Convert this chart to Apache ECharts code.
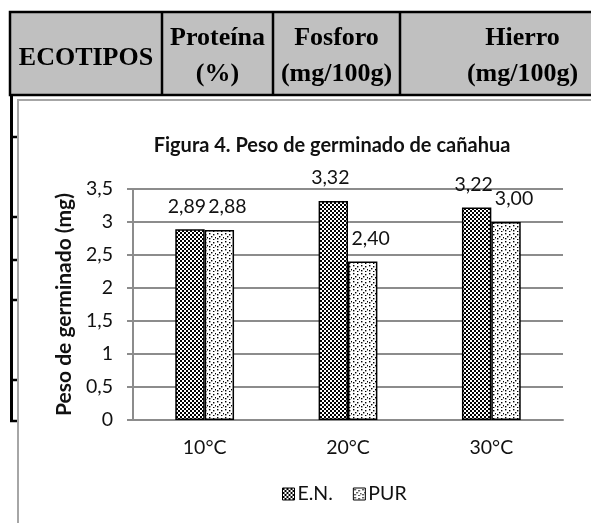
<!DOCTYPE html>
<html><head><meta charset="utf-8">
<script src="https://cdn.jsdelivr.net/npm/echarts@6/dist/echarts.min.js"></script>
<style>html,body{margin:0;padding:0;background:#fff}#c{width:591px;height:523px}</style>
</head><body><div id="c"></div>
<script>
const categories = ['10°C', '20°C', '30°C'];
const seriesNames = ['E.N.', 'PUR'];
const enValues = [2.89, 3.32, 3.22];
const purValues = [2.88, 2.40, 3.00];
const yTicks = [0, 0.5, 1, 1.5, 2, 2.5, 3, 3.5];
const tableHeaders = [['ECOTIPOS'], ['Proteína', '(%)'], ['Fosforo', '(mg/100g)'], ['Hierro', '(mg/100g)']];

function checker() {
  const c = document.createElement('canvas'); c.width = 4; c.height = 4;
  const g = c.getContext('2d');
  g.fillStyle = '#fff'; g.fillRect(0, 0, 4, 4);
  g.fillStyle = '#000'; g.fillRect(0, 0, 2, 2); g.fillRect(2, 2, 2, 2);
  return c;
}
function dots() {
  const c = document.createElement('canvas'); c.width = 8; c.height = 8;
  const g = c.getContext('2d');
  g.fillStyle = '#fff'; g.fillRect(0, 0, 8, 8);
  g.fillStyle = '#000';
  [[1,1],[5,2],[3,4],[7,5],[1,6],[5,7]].forEach(p => g.fillRect(p[0], p[1], 1.4, 1.4));
  return c;
}
const fmt = v => Number(v).toFixed(2).replace('.', ',');
const tickFmt = v => String(v).replace('.', ',');

const chart = echarts.init(document.getElementById('c'), null, {renderer: 'canvas'});

const colX = [10, 162, 273, 400, 645];
const g = [];
g.push({type: 'rect', shape: {x: 10, y: 12, width: 640, height: 83}, style: {fill: '#c0c0c0', stroke: '#000', lineWidth: 2.5}, z: 1});
[162, 273, 400].forEach(x => g.push({type: 'line', shape: {x1: x, y1: 12, x2: x, y2: 95}, style: {stroke: '#000', lineWidth: 2.5}, z: 2}));
const tFont = 'bold 26px "Liberation Serif"';
tableHeaders.forEach((lines, i) => {
  const cx = (colX[i] + colX[i + 1]) / 2;
  const ys = lines.length === 1 ? [58] : [38, 74];
  lines.forEach((t, k) => g.push({type: 'text', x: cx, y: ys[k], style: {text: t, font: tFont, fill: '#000', textAlign: 'center', textVerticalAlign: 'middle'}, z: 3}));
});
g.push({type: 'line', shape: {x1: 11.5, y1: 95, x2: 11.5, y2: 422}, style: {stroke: '#000', lineWidth: 3}, z: 2});
g.push({type: 'line', shape: {x1: 10, y1: 421, x2: 17, y2: 421}, style: {stroke: '#000', lineWidth: 2.5}, z: 2});
[137, 217, 260, 300, 380].forEach(y => g.push({type: 'line', shape: {x1: 11, y1: y, x2: 17, y2: y}, style: {stroke: '#000', lineWidth: 2.5}, z: 2}));
g.push({type: 'polyline', shape: {points: [[18, 530], [18, 100], [600, 100]]}, style: {stroke: '#a6a6a6', fill: null, lineWidth: 2}, z: 2});

const lblBase = {show: true, position: 'top', distance: 13, fontFamily: 'Lato', fontSize: 19.5, color: '#111', formatter: p => fmt(p.value)};

chart.setOption({
  backgroundColor: '#fff',
  animation: false,
  graphic: g,
  title: {
    text: 'Figura 4. Peso de germinado de cañahua',
    left: 327, top: 131, textAlign: 'center',
    textStyle: {fontFamily: 'Lato', fontWeight: 'bold', fontSize: 20, color: '#111'}
  },
  legend: {
    data: seriesNames,
    left: 277, top: 479,
    itemWidth: 12, itemHeight: 12, itemGap: 20,
    icon: 'rect',
    textStyle: {fontFamily: 'Lato', fontSize: 19.5, color: '#111', padding: [0, 0, 0, -2]},
    itemStyle: {borderColor: '#000', borderWidth: 1}
  },
  grid: {left: 133, right: 28, top: 189, bottom: 103, containLabel: false},
  xAxis: {
    type: 'category', data: categories,
    axisLine: {lineStyle: {color: '#8c8c8c', width: 2}},
    axisTick: {show: false},
    axisLabel: {fontFamily: 'Lato', fontSize: 19.5, color: '#111', margin: 18}
  },
  yAxis: {
    type: 'value', min: 0, max: 3.5, interval: 0.5,
    name: 'Peso de germinado (mg)', nameLocation: 'middle', nameGap: 57,
    nameTextStyle: {fontFamily: 'Lato', fontWeight: 'bold', fontSize: 21, color: '#111'},
    axisLine: {show: true, lineStyle: {color: '#8c8c8c', width: 2}},
    axisTick: {show: true, length: 6, lineStyle: {color: '#8c8c8c', width: 2}},
    splitLine: {lineStyle: {color: '#8c8c8c', width: 2}},
    axisLabel: {fontFamily: 'Lato', fontSize: 19.5, color: '#111', margin: 20,
      formatter: v => yTicks.includes(v) ? tickFmt(v) : ''}
  },
  series: [
    {name: seriesNames[0], type: 'bar', data: enValues, barGap: '0%', barCategoryGap: '59%',
     itemStyle: {color: {image: checker(), repeat: 'repeat'}, borderColor: '#000', borderWidth: 1.5},
     label: Object.assign({}, lblBase, {offset: [-3, 0]})},
    {name: seriesNames[1], type: 'bar', data: purValues,
     itemStyle: {color: {image: dots(), repeat: 'repeat'}, borderColor: '#000', borderWidth: 1.5},
     label: Object.assign({}, lblBase, {offset: [8, 0]})}
  ]
});
</script></body></html>
